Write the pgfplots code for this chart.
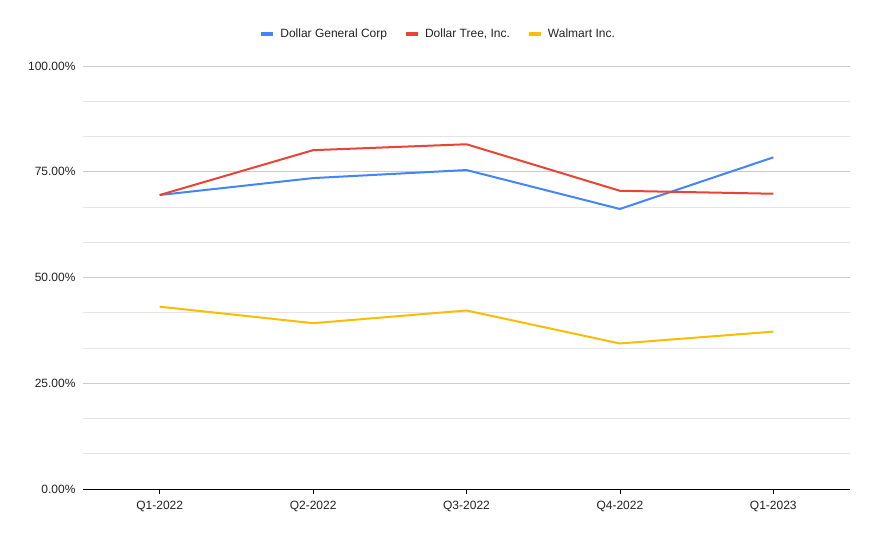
\documentclass[border=0pt]{standalone}
\usepackage{pgfplots}
\pgfplotsset{compat=1.18}
\usepackage{fontspec}
\setmainfont{Liberation Sans}
\definecolor{cblue}{HTML}{4285F4}
\definecolor{cred}{HTML}{EA4335}
\definecolor{cyellow}{HTML}{FBBC04}
\definecolor{ctext}{HTML}{222222}
\begin{document}
\begin{tikzpicture}[x=1pt,y=1pt]
\useasboundingbox (0,0) rectangle (878,543);
\begin{axis}[
  at={(83pt,54pt)}, anchor=south west,
  scale only axis, width=767pt, height=423pt,
  xmin=-0.5, xmax=4.5, ymin=0, ymax=100,
  xtick={0,1,2,3,4},
  xticklabels={Q1-2022,Q2-2022,Q3-2022,Q4-2022,Q1-2023},
  ytick={0,25,50,75,100},
  yticklabels={0.00\%,25.00\%,50.00\%,75.00\%,100.00\%},
  minor y tick num=2,
  ymajorgrids, yminorgrids,
  major grid style={color=black!20, line width=0.8pt},
  minor grid style={color=black!10, line width=0.8pt},
  axis x line*=bottom, axis y line*=left,
  x axis line style={black, line width=0.8pt, -},
  y axis line style={draw=none},
  xtick style={black, line width=0.8pt},
  tick align=outside, major tick length=5pt,
  ytick style={draw=none}, minor y tick style={draw=none},
  ticklabel style={font=\fontsize{12}{14}\selectfont, text=ctext},
  xticklabel style={yshift=-4pt},
  yticklabel style={xshift=1pt},
  legend style={at={(0.463,1.075)}, anchor=center, draw=none, fill=none,
    font=\fontsize{12}{14}\selectfont, text=ctext,
    /tikz/every odd column/.append style={column sep=3pt},
    /tikz/every even column/.append style={column sep=15pt}},
  legend columns=3,
  legend image code/.code={\draw[line width=4pt] (0pt,0pt) -- (12pt,0pt);},
  every axis plot/.append style={line width=2pt, line join=round},
]
\addplot[cblue] coordinates {(0,69.5) (1,73.5) (2,75.4) (3,66.2) (4,78.4)};
\addlegendentry{Dollar General Corp}
\addplot[cred] coordinates {(0,69.5) (1,80.1) (2,81.5) (3,70.5) (4,69.8)};
\addlegendentry{Dollar Tree, Inc.}
\addplot[cyellow] coordinates {(0,43.1) (1,39.2) (2,42.2) (3,34.4) (4,37.2)};
\addlegendentry{Walmart Inc.}
\end{axis}
\end{tikzpicture}
\end{document}
